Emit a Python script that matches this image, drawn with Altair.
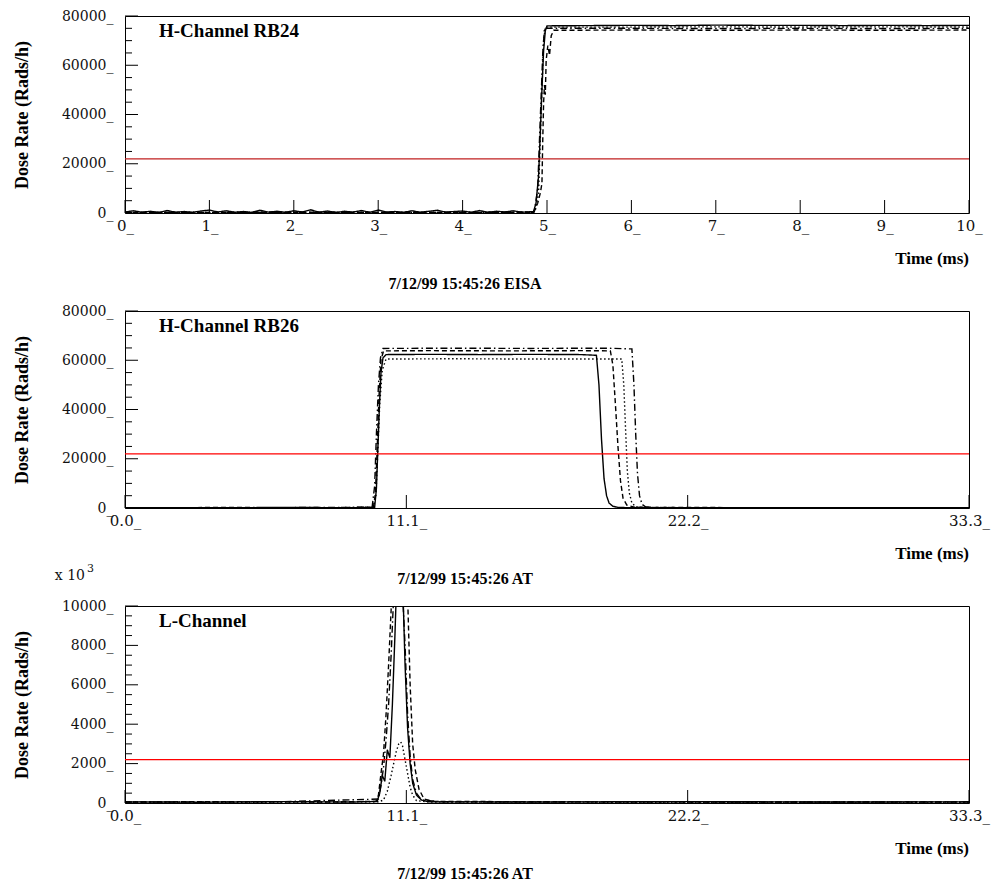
import altair as alt
import pandas as pd

# ---------------- Panel 1 : H-Channel RB24 (0-10 ms) ----------------
p1_base_t = [0.0, 0.1, 0.2, 0.3, 0.4, 0.5, 0.6, 0.7, 0.8, 0.9, 1.0, 1.1, 1.2, 1.3, 1.4, 1.5,
             1.6, 1.7, 1.8, 1.9, 2.0, 2.1, 2.2, 2.3, 2.4, 2.5, 2.6, 2.7, 2.8, 2.9, 3.0, 3.1,
             3.2, 3.3, 3.4, 3.5, 3.6, 3.7, 3.8, 3.9, 4.0, 4.1, 4.2, 4.3, 4.4, 4.5, 4.6, 4.7, 4.8]
p1_base_v = [400, 900, 300, 700, 200, 1000, 300,
             600, 250, 800, 1200, 400, 900, 300,
             600, 200, 1100, 350, 700, 250, 900,
             400, 1300, 300, 800, 200, 700, 350,
             1000, 300, 1200, 400, 600, 250, 900,
             300, 700, 1100, 350, 600, 800, 300,
             1000, 250, 700, 400, 900, 300, 500]
p1_solid_t = p1_base_t + [4.84, 4.87, 4.90, 4.92, 4.94, 4.96, 4.98, 5.0, 5.5, 6.0, 6.5, 7.0, 7.5, 8.0, 8.5, 9.0, 9.5, 10.0]
p1_solid_v = p1_base_v + [600, 4000, 15000, 32000, 50000, 66000, 74000, 76000, 76100, 76200, 76100, 76300, 76200, 76200, 76100, 76200, 76100, 76200]
p1_dashed_t = [0.0, 2.0, 4.0, 4.84, 4.86, 4.89, 4.92, 4.94, 4.95, 4.96, 4.97, 4.98, 4.99, 5.01, 5.03, 5.05, 5.08, 6.0, 7.0, 8.0, 9.0, 10.0]
p1_dashed_v = [200, 300, 200, 300, 1500, 4000, 8000, 12000, 30000, 45000, 52000, 48000, 62000, 68000, 64000, 72000, 74200, 74300, 74200, 74300, 74200, 74300]
p1_dotted_t = [0.0, 2.5, 4.84, 4.86, 4.90, 4.93, 4.96, 4.98, 6.0, 7.0, 8.0, 9.0, 10.0]
p1_dotted_v = [200, 200, 300, 800, 8000, 40000, 70000, 75500, 75500, 75600, 75500, 75600, 75500]
p1_dashdot_t = [0.0, 2.5, 4.83, 4.85, 4.89, 4.92, 4.95, 4.97, 6.0, 7.0, 8.0, 9.0, 10.0]
p1_dashdot_v = [200, 200, 300, 500, 10000, 38000, 65000, 75000, 75000, 74900, 75000, 74900, 75000]

# ---------------- Panel 2 : H-Channel RB26 (0-33.3 ms) ----------------
p2_solid_t = [0.0, 3.0, 6.0, 9.0, 9.85, 9.92, 9.98, 10.04, 10.1, 10.18, 10.3, 12.0, 14.0, 16.0, 18.0,
              18.6, 18.7, 18.8, 18.9, 19.0, 19.1, 19.25, 19.45, 19.8, 22.0, 26.0, 30.0, 33.3]
p2_solid_v = [150, 100, 200, 150, 300, 8000, 25000, 42000, 55000, 61000, 62300, 62400, 62300, 62400, 62300,
              62000, 50000, 28000, 12000, 5000, 2000, 700, 250, 150, 100, 150, 100, 150]
p2_dashed_t = [0.0, 4.0, 8.0, 9.8, 9.88, 9.95, 10.02, 10.1, 10.2, 12.0, 15.0, 18.0, 19.15,
               19.25, 19.35, 19.45, 19.55, 19.65, 19.8, 20.1, 24.0, 28.0, 33.3]
p2_dashed_v = [100, 200, 100, 200, 6000, 24000, 45000, 60000, 63800, 63900, 63800, 63900, 63800,
               58000, 42000, 25000, 11000, 4000, 1200, 300, 150, 100, 150]
p2_dotted_t = [0.0, 5.0, 9.8, 9.9, 9.97, 10.05, 10.15, 10.3, 13.0, 16.0, 19.6,
               19.68, 19.75, 19.82, 19.9, 20.0, 20.15, 20.4, 25.0, 33.3]
p2_dotted_v = [100, 100, 200, 5000, 22000, 42000, 56000, 60500, 60600, 60500, 60500,
               50000, 32000, 15000, 6000, 2000, 600, 200, 100, 100]
p2_dashdot_t = [0.0, 5.0, 9.75, 9.85, 9.92, 10.0, 10.08, 10.18, 13.0, 16.0, 19.0, 20.0,
                20.08, 20.15, 20.22, 20.3, 20.4, 20.55, 20.8, 26.0, 33.3]
p2_dashdot_v = [150, 100, 300, 9000, 30000, 50000, 61000, 64800, 64900, 64800, 64900, 64600,
                50000, 30000, 14000, 5000, 1500, 400, 150, 100, 150]

# ---------------- Panel 3 : L-Channel (0-33.3 ms, x 10^3) ----------------
p3_solid_t = [0.0, 3.0, 6.0, 9.0, 9.95, 10.05, 10.15, 10.25, 10.35, 10.45, 10.55, 10.65, 10.75, 10.85, 10.95,
              11.05, 11.15, 11.25, 11.35, 11.5, 11.7, 12.0, 16.0, 22.0, 28.0, 33.3]
p3_solid_v = [60, 40, 70, 50, 80, 500, 1400, 1100, 2700, 2300, 5000, 8500, 12500, 14000, 11500,
              7000, 3800, 2000, 1000, 400, 150, 60, 50, 70, 50, 60]
p3_dashed_t = [0.0, 4.0, 8.0, 9.9, 10.0, 10.1, 10.2, 10.3, 10.4, 10.5, 10.6, 10.8, 11.0,
               11.15, 11.25, 11.35, 11.45, 11.6, 11.8, 12.2, 18.0, 25.0, 33.3]
p3_dashed_v = [50, 70, 50, 80, 400, 1500, 2500, 4500, 7000, 9800, 13000, 16000, 14000,
               10500, 6000, 3000, 1700, 700, 200, 80, 60, 50, 60]
p3_dotted_t = [0.0, 5.0, 10.0, 10.2, 10.35, 10.5, 10.6, 10.7, 10.8, 10.88,
               10.95, 11.05, 11.15, 11.25, 11.35, 11.5, 12.0, 20.0, 33.3]
p3_dotted_v = [40, 40, 60, 150, 600, 1400, 2000, 2600, 3000, 3100,
               2900, 2200, 1500, 800, 400, 120, 50, 40, 40]
p3_dashdot_t = [0.0, 6.0, 10.0, 10.1, 10.2, 10.3, 10.4, 10.5, 10.6, 10.7,
                10.9, 11.05, 11.15, 11.25, 11.35, 11.5, 11.7, 12.5, 33.3]
p3_dashdot_v = [50, 60, 200, 900, 1800, 3200, 5000, 7500, 10500, 13000,
                12000, 8000, 4500, 2400, 1200, 500, 150, 60, 50]

# ---------------- axes / labels ----------------
p1_xticks = [0, 1, 2, 3, 4, 5, 6, 7, 8, 9, 10]
p23_xticks = [0.0, 11.1, 22.2, 33.3]
p12_ymajor = [0, 20000, 40000, 60000, 80000]
p12_yminor = [5000, 10000, 15000, 25000, 30000, 35000, 45000, 50000, 55000, 65000, 70000, 75000]
p3_ymajor = [0, 2000, 4000, 6000, 8000, 10000]
p3_yminor = [500, 1000, 1500, 2500, 3000, 3500, 4500, 5000, 5500, 6500, 7000, 7500, 8500, 9000, 9500]
thresholds = [22000, 22000, 2200]
titles = ["H-Channel RB24", "H-Channel RB26", "L-Channel"]
subtitles = ["7/12/99 15:45:26  EISA", "7/12/99 15:45:26  AT", "7/12/99 15:45:26  AT"]

series_names = ["solid", "dashed", "dotted", "dashdot"]
dash_range = [[1, 0], [5, 3], [1.5, 2.5], [7, 3, 1.5, 3]]

W, H = 844, 197
LABEL_FONT = "DejaVu Serif"
BOLD_FONT = "Liberation Serif"


def long_df(pairs):
    rows = []
    for name, (ts, vs) in zip(series_names, pairs):
        for t, v in zip(ts, vs):
            rows.append({"t": t, "v": v, "s": name})
    return pd.DataFrame(rows)


def panel(df, xmax, xticks, xfmt, ymax, ymajor, yminor, title, thr, thr_color, subtitle, extra=None):
    xs = alt.Scale(domain=[0, xmax], nice=False, zero=False)
    ys = alt.Scale(domain=[0, ymax], nice=False)
    xax = alt.Axis(
        values=xticks, format=xfmt, labelExpr="datum.label + '_'", title=None,
        ticks=False, domain=False, grid=False, labelPadding=5, labelFlush=False,
        labelOverlap=False, labelFont=LABEL_FONT, labelFontSize=15, labelColor="#111")
    yax = alt.Axis(
        values=ymajor, format="d", labelExpr="datum.label + '_'",
        title="Dose Rate (Rads/h)", titleFont=BOLD_FONT, titleFontWeight="bold",
        titleFontSize=18, titlePadding=30, titleColor="black",
        ticks=False, domain=False, grid=False, labelPadding=12, labelFlush=False,
        labelOverlap=False, labelFont=LABEL_FONT, labelFontSize=14, labelColor="#111")
    X = lambda: alt.X("t:Q", scale=xs, axis=xax)
    Y = lambda: alt.Y("v:Q", scale=ys, axis=yax)
    lines = alt.Chart(df).mark_line(clip=True, strokeWidth=1.4, color="black").encode(
        x=X(), y=Y(),
        strokeDash=alt.StrokeDash("s:N", scale=alt.Scale(domain=series_names, range=dash_range), legend=None),
    )
    red = alt.Chart(pd.DataFrame({"v": [thr]})).mark_rule(color=thr_color, strokeWidth=1.1).encode(y=Y())
    ymaj = alt.Chart(pd.DataFrame({"v": ymajor})).mark_rule(color="black", strokeWidth=1).encode(
        y=Y(), x=alt.value(0), x2=alt.value(13))
    ymin = alt.Chart(pd.DataFrame({"v": yminor})).mark_rule(color="black", strokeWidth=1).encode(
        y=Y(), x=alt.value(0), x2=alt.value(7))
    xt = alt.Chart(pd.DataFrame({"t": xticks})).mark_rule(color="black", strokeWidth=1).encode(
        x=X(), y=alt.value(H), y2=alt.value(H - 13))
    ttl = alt.Chart(pd.DataFrame({"label": [title]})).mark_text(
        align="left", baseline="middle", font=BOLD_FONT, fontWeight="bold", fontSize=19, color="black"
    ).encode(text="label:N", x=alt.value(34), y=alt.value(15))
    tm = alt.Chart(pd.DataFrame({"label": ["Time (ms)"]})).mark_text(
        align="right", baseline="middle", font=BOLD_FONT, fontWeight="bold", fontSize=17, color="black"
    ).encode(text="label:N", x=alt.value(W), y=alt.value(H + 46))
    sub = alt.Chart(pd.DataFrame({"label": [subtitle]})).mark_text(
        align="center", baseline="middle", font=BOLD_FONT, fontWeight="bold", fontSize=16, color="black"
    ).encode(text="label:N", x=alt.value(340), y=alt.value(H + 71))
    layers = [lines, red, ymaj, ymin, xt, ttl, tm, sub]
    if extra:
        layers += extra
    return alt.layer(*layers).properties(width=W, height=H)


df1 = long_df([(p1_solid_t, p1_solid_v), (p1_dashed_t, p1_dashed_v),
               (p1_dotted_t, p1_dotted_v), (p1_dashdot_t, p1_dashdot_v)])
df2 = long_df([(p2_solid_t, p2_solid_v), (p2_dashed_t, p2_dashed_v),
               (p2_dotted_t, p2_dotted_v), (p2_dashdot_t, p2_dashdot_v)])
df3 = long_df([(p3_solid_t, p3_solid_v), (p3_dashed_t, p3_dashed_v),
               (p3_dotted_t, p3_dotted_v), (p3_dashdot_t, p3_dashdot_v)])

x10 = alt.Chart(pd.DataFrame({"label": ["x 10"]})).mark_text(
    align="right", baseline="middle", font=LABEL_FONT, fontSize=14, color="#111"
).encode(text="label:N", x=alt.value(-40), y=alt.value(H + 68))
exp3 = alt.Chart(pd.DataFrame({"label": ["3"]})).mark_text(
    align="left", baseline="middle", font=LABEL_FONT, fontSize=11, color="#111"
).encode(text="label:N", x=alt.value(-38), y=alt.value(H + 61))

p1 = panel(df1, 10, p1_xticks, "d", 80000, p12_ymajor, p12_yminor, titles[0], thresholds[0], "#c02020", subtitles[0])
p2 = panel(df2, 33.3, p23_xticks, ".1f", 80000, p12_ymajor, p12_yminor, titles[1], thresholds[1], "#ff0000", subtitles[1],
           extra=[x10, exp3])
p3 = panel(df3, 33.3, p23_xticks, ".1f", 10000, p3_ymajor, p3_yminor, titles[2], thresholds[2], "#ff0000", subtitles[2])

chart = alt.vconcat(p1, p2, p3, spacing=98, bounds="flush").configure_view(
    stroke="black", strokeWidth=1
).properties(
    padding={"left": 4, "top": 0, "right": 5, "bottom": 0},
    background="white",
)

chart.save("out.html", embed_options={"renderer": "svg", "actions": False})
